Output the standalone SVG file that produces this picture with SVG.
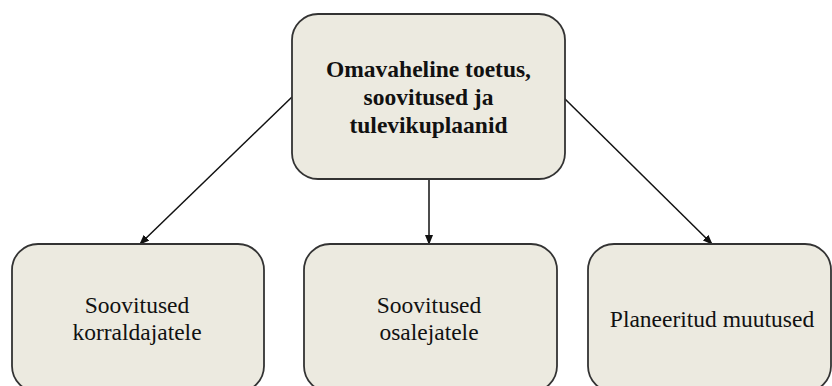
<svg xmlns="http://www.w3.org/2000/svg" width="832" height="386" viewBox="0 0 832 386">
<style>
.box{fill:#ECEAE0;stroke:#333;stroke-width:1.8}
.t{font-family:'Liberation Serif','Times New Roman',serif;font-size:23.5px;fill:#111;text-anchor:middle}
.b{font-weight:bold}
.c{stroke:#111;stroke-width:1.5;fill:none}
</style>
<defs>
<marker id="ah" markerWidth="10" markerHeight="8" refX="9" refY="4" orient="auto" markerUnits="userSpaceOnUse">
<path d="M0,0 L10,4 L0,8 Z" fill="#111"/>
</marker>
</defs>
<rect width="832" height="386" fill="#fff"/>
<g id="connectors">
<line class="c" x1="292" y1="97" x2="140" y2="244" marker-end="url(#ah)"/>
<line class="c" x1="429" y1="179" x2="429" y2="244" marker-end="url(#ah)"/>
<line class="c" x1="564" y1="98" x2="712" y2="244" marker-end="url(#ah)"/>
</g>
<g id="top">
<rect class="box" x="292" y="14" width="273" height="165" rx="26"/>
<text class="t b" x="428.5" y="77">Omavaheline toetus,</text>
<text class="t b" x="428.5" y="105">soovitused ja</text>
<text class="t b" x="428.5" y="133">tulevikuplaanid</text>
</g>
<g id="n1">
<rect class="box" x="12" y="244" width="252" height="148" rx="26"/>
<text class="t" x="137" y="313">Soovitused</text>
<text class="t" x="137" y="340">korraldajatele</text>
</g>
<g id="n2">
<rect class="box" x="304" y="244" width="253" height="148" rx="26"/>
<text class="t" x="429" y="313">Soovitused</text>
<text class="t" x="429" y="340">osalejatele</text>
</g>
<g id="n3">
<rect class="box" x="588" y="244" width="243" height="148" rx="26"/>
<text class="t" x="712" y="327">Planeeritud muutused</text>
</g>
</svg>
